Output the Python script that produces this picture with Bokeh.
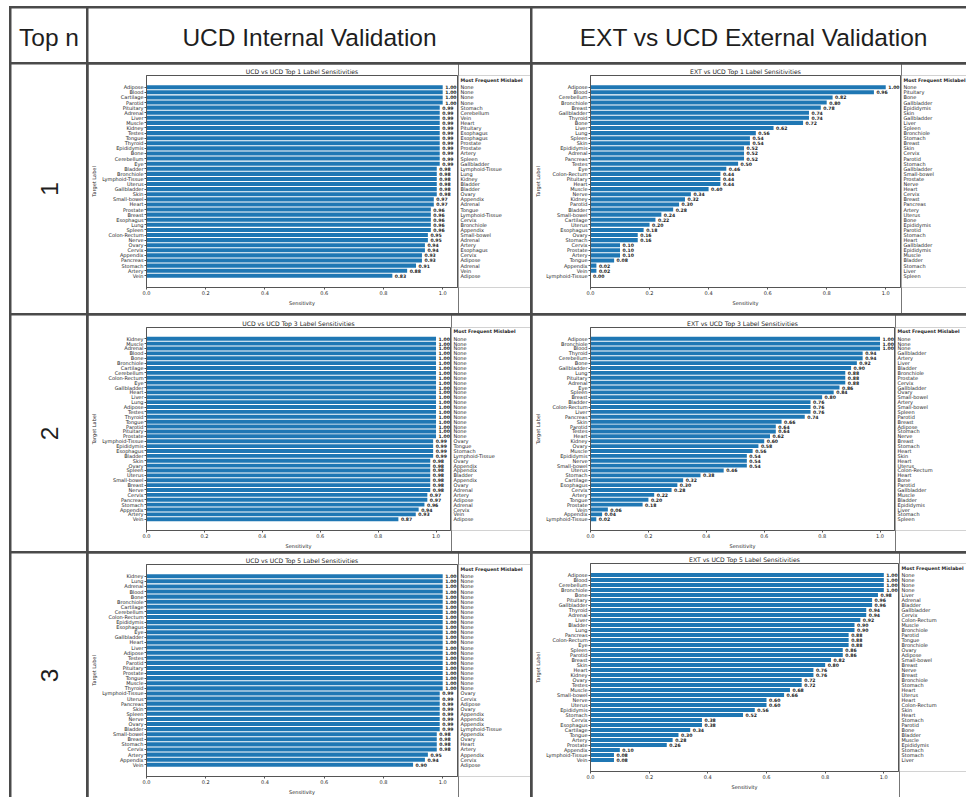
import math

from bokeh.core.properties import value
from bokeh.embed import file_html
from bokeh.layouts import column, row
from bokeh.models import (ColumnDataSource, FactorRange, FixedTicker, LabelSet,
                          PrintfTickFormatter, Range1d, Spacer)
from bokeh.plotting import figure
from bokeh.resources import INLINE

# ---------------------------------------------------------------- data
col_headers = ["Top n", "UCD Internal Validation", "EXT vs UCD External Validation"]
row_names = ["1", "2", "3"]
mislabel_header = "Most Frequent Mislabel"

ucd_titles = ["UCD vs UCD Top 1 Label Sensitivities",
              "UCD vs UCD Top 3 Label Sensitivities",
              "UCD vs UCD Top 5 Label Sensitivities"]
ext_titles = ["EXT vs UCD Top 1 Label Sensitivities",
              "EXT vs UCD Top 3 Label Sensitivities",
              "EXT vs UCD Top 5 Label Sensitivities"]

# UCD internal validation, top 1
ucd1_labels = ["Adipose", "Blood", "Cartilage", "Parotid", "Pituitary", "Adrenal", "Liver",
               "Muscle", "Kidney", "Testes", "Tongue", "Thyroid", "Epididymis", "Bone",
               "Cerebellum", "Eye", "Bladder", "Bronchiole", "Lymphoid-Tissue", "Uterus",
               "Gallbladder", "Skin", "Small-bowel", "Heart", "Prostate", "Breast",
               "Esophagus", "Lung", "Spleen", "Colon-Rectum", "Nerve", "Ovary", "Cervix",
               "Appendix", "Pancreas", "Stomach", "Artery", "Vein"]
ucd1_values = [1.00, 1.00, 1.00, 1.00, 0.99, 0.99, 0.99, 0.99, 0.99, 0.99, 0.99, 0.99, 0.99,
               0.99, 0.99, 0.99, 0.98, 0.98, 0.98, 0.98, 0.98, 0.98, 0.97, 0.97, 0.96, 0.96,
               0.96, 0.96, 0.96, 0.95, 0.95, 0.94, 0.94, 0.93, 0.93, 0.91, 0.88, 0.83]
ucd1_mislabels = ["None", "None", "None", "None", "Stomach", "Cerebellum", "Vein", "Heart",
                  "Pituitary", "Esophagus", "Esophagus", "Prostate", "Prostate", "Artery",
                  "Spleen", "Gallbladder", "Lymphoid-Tissue", "Lung", "Kidney", "Bladder",
                  "Bladder", "Ovary", "Appendix", "Adrenal", "Tongue", "Lymphoid-Tissue",
                  "Cervix", "Bronchiole", "Appendix", "Small-bowel", "Adrenal", "Artery",
                  "Esophagus", "Cervix", "Adipose", "Adrenal", "Vein", "Adipose"]

# UCD internal validation, top 3
ucd3_labels = ["Kidney", "Muscle", "Adrenal", "Blood", "Bone", "Bronchiole", "Cartilage",
               "Cerebellum", "Colon-Rectum", "Eye", "Gallbladder", "Heart", "Liver", "Lung",
               "Adipose", "Testes", "Thyroid", "Tongue", "Parotid", "Pituitary", "Prostate",
               "Lymphoid-Tissue", "Epididymis", "Esophagus", "Bladder", "Skin", "Ovary",
               "Spleen", "Uterus", "Small-bowel", "Breast", "Nerve", "Cervix", "Pancreas",
               "Stomach", "Appendix", "Artery", "Vein"]
ucd3_values = [1.00, 1.00, 1.00, 1.00, 1.00, 1.00, 1.00, 1.00, 1.00, 1.00, 1.00, 1.00, 1.00,
               1.00, 1.00, 1.00, 1.00, 1.00, 1.00, 1.00, 1.00, 0.99, 0.99, 0.99, 0.99, 0.98,
               0.98, 0.98, 0.98, 0.98, 0.98, 0.98, 0.97, 0.97, 0.96, 0.94, 0.93, 0.87]
ucd3_mislabels = ["None", "None", "None", "None", "None", "None", "None", "None", "None",
                  "None", "None", "None", "None", "None", "None", "None", "None", "None",
                  "None", "None", "None", "Ovary", "Tongue", "Stomach", "Lymphoid-Tissue",
                  "Ovary", "Appendix", "Appendix", "Bladder", "Appendix", "Ovary", "Adrenal",
                  "Artery", "Adipose", "Adrenal", "Cervix", "Vein", "Adipose"]

# UCD internal validation, top 5
ucd5_labels = ["Kidney", "Lung", "Adrenal", "Blood", "Bone", "Bronchiole", "Cartilage",
               "Cerebellum", "Colon-Rectum", "Epididymis", "Esophagus", "Eye", "Gallbladder",
               "Heart", "Liver", "Adipose", "Testes", "Parotid", "Pituitary", "Prostate",
               "Tongue", "Muscle", "Thyroid", "Lymphoid-Tissue", "Uterus", "Pancreas", "Skin",
               "Spleen", "Nerve", "Ovary", "Bladder", "Small-bowel", "Breast", "Stomach",
               "Cervix", "Artery", "Appendix", "Vein"]
ucd5_values = [1.00, 1.00, 1.00, 1.00, 1.00, 1.00, 1.00, 1.00, 1.00, 1.00, 1.00, 1.00, 1.00,
               1.00, 1.00, 1.00, 1.00, 1.00, 1.00, 1.00, 1.00, 1.00, 1.00, 0.99, 0.99, 0.99,
               0.99, 0.99, 0.99, 0.99, 0.99, 0.98, 0.98, 0.98, 0.98, 0.95, 0.94, 0.90]
ucd5_mislabels = ["None", "None", "None", "None", "None", "None", "None", "None", "None",
                  "None", "None", "None", "None", "None", "None", "None", "None", "None",
                  "None", "None", "None", "None", "None", "Ovary", "Cervix", "Adipose", "Ovary",
                  "Appendix", "Appendix", "Appendix", "Lymphoid-Tissue", "Appendix", "Ovary",
                  "Heart", "Artery", "Appendix", "Cervix", "Adipose"]

# EXT vs UCD external validation, top 1
ext1_labels = ["Adipose", "Blood", "Cerebellum", "Bronchiole", "Breast", "Gallbladder",
               "Thyroid", "Bone", "Liver", "Lung", "Spleen", "Skin", "Epididymis", "Adrenal",
               "Pancreas", "Testes", "Eye", "Colon-Rectum", "Pituitary", "Heart", "Muscle",
               "Nerve", "Kidney", "Parotid", "Bladder", "Small-bowel", "Cartilage", "Uterus",
               "Esophagus", "Ovary", "Stomach", "Cervix", "Prostate", "Artery", "Tongue",
               "Appendix", "Vein", "Lymphoid-Tissue"]
ext1_values = [1.00, 0.96, 0.82, 0.80, 0.78, 0.74, 0.74, 0.72, 0.62, 0.56, 0.54, 0.54, 0.52,
               0.52, 0.52, 0.50, 0.46, 0.44, 0.44, 0.44, 0.40, 0.34, 0.32, 0.30, 0.28, 0.24,
               0.22, 0.20, 0.18, 0.16, 0.16, 0.10, 0.10, 0.10, 0.08, 0.02, 0.02, 0.00]
ext1_mislabels = ["None", "Pituitary", "Bone", "Gallbladder", "Epididymis", "Skin",
                  "Gallbladder", "Liver", "Spleen", "Bronchiole", "Stomach", "Breast", "Skin",
                  "Cervix", "Parotid", "Stomach", "Gallbladder", "Small-bowel", "Prostate",
                  "Nerve", "Heart", "Cervix", "Breast", "Pancreas", "Artery", "Uterus", "Bone",
                  "Epididymis", "Parotid", "Stomach", "Heart", "Gallbladder", "Epididymis",
                  "Muscle", "Bladder", "Stomach", "Liver", "Spleen"]

# EXT vs UCD external validation, top 3
ext3_labels = ["Adipose", "Bronchiole", "Blood", "Thyroid", "Cerebellum", "Bone",
               "Gallbladder", "Lung", "Pituitary", "Adrenal", "Eye", "Spleen", "Breast",
               "Bladder", "Colon-Rectum", "Liver", "Pancreas", "Skin", "Parotid", "Testes",
               "Heart", "Kidney", "Ovary", "Muscle", "Epididymis", "Nerve", "Small-bowel",
               "Uterus", "Stomach", "Cartilage", "Esophagus", "Cervix", "Artery", "Tongue",
               "Prostate", "Vein", "Appendix", "Lymphoid-Tissue"]
ext3_values = [1.00, 1.00, 1.00, 0.94, 0.94, 0.92, 0.90, 0.88, 0.88, 0.88, 0.86, 0.84, 0.80,
               0.76, 0.76, 0.76, 0.74, 0.66, 0.64, 0.64, 0.62, 0.60, 0.58, 0.56, 0.54, 0.54,
               0.54, 0.46, 0.38, 0.32, 0.30, 0.28, 0.22, 0.20, 0.18, 0.06, 0.04, 0.02]
ext3_mislabels = ["None", "None", "None", "Gallbladder", "Artery", "Liver", "Bladder",
                  "Bronchiole", "Prostate", "Cervix", "Gallbladder", "Ovary", "Small-bowel",
                  "Artery", "Small-bowel", "Spleen", "Parotid", "Breast", "Adipose", "Stomach",
                  "Nerve", "Breast", "Stomach", "Heart", "Skin", "Heart", "Uterus",
                  "Colon-Rectum", "Heart", "Bone", "Parotid", "Gallbladder", "Muscle",
                  "Bladder", "Epididymis", "Liver", "Stomach", "Spleen"]

# EXT vs UCD external validation, top 5
ext5_labels = ["Adipose", "Blood", "Cerebellum", "Bronchiole", "Bone", "Pituitary",
               "Gallbladder", "Thyroid", "Adrenal", "Liver", "Bladder", "Lung", "Pancreas",
               "Colon-Rectum", "Eye", "Spleen", "Parotid", "Breast", "Skin", "Heart", "Kidney",
               "Ovary", "Testes", "Muscle", "Small-bowel", "Nerve", "Uterus", "Epididymis",
               "Stomach", "Cervix", "Esophagus", "Cartilage", "Tongue", "Artery", "Prostate",
               "Appendix", "Lymphoid-Tissue", "Vein"]
ext5_values = [1.00, 1.00, 1.00, 1.00, 0.98, 0.96, 0.96, 0.94, 0.94, 0.92, 0.90, 0.90, 0.88,
               0.88, 0.88, 0.86, 0.86, 0.82, 0.80, 0.76, 0.76, 0.72, 0.72, 0.68, 0.66, 0.60,
               0.60, 0.56, 0.52, 0.38, 0.38, 0.34, 0.30, 0.28, 0.26, 0.10, 0.08, 0.08]
ext5_mislabels = ["None", "None", "None", "None", "Liver", "Adrenal", "Bladder", "Gallbladder",
                  "Cervix", "Colon-Rectum", "Muscle", "Bronchiole", "Parotid", "Tongue",
                  "Bronchiole", "Ovary", "Adipose", "Small-bowel", "Breast", "Nerve", "Breast",
                  "Bronchiole", "Stomach", "Heart", "Uterus", "Heart", "Colon-Rectum", "Skin",
                  "Heart", "Stomach", "Parotid", "Bone", "Bladder", "Muscle", "Epididymis",
                  "Stomach", "Stomach", "Liver"]

sensitivity_ticks = [0.0, 0.2, 0.4, 0.6, 0.8, 1.0]

# ---------------------------------------------------------------- style
BAR = "#1f77b4"
SPINE = "#555555"
INK = "#1e1e1e"
RULE = "#4a4a4a"
PANEL_FONT = "DejaVu Sans"
HEAD_FONT = "Liberation Sans"
X_END = 1.05
PAD = 1.8          # categorical padding on each side, in bar slots


def panel(title, labels, vals, mislabels, cell_w, cell_h, left, frame_w, top, bottom):
    """Bar chart plus its 'most frequent mislabel' column, sharing one y range."""
    n = len(labels)
    src = ColumnDataSource(dict(label=labels, value=vals,
                                vtxt=[f"{v:.2f}" for v in vals], mis=mislabels))
    y_range = FactorRange(factors=labels[::-1], range_padding=PAD,
                          range_padding_units="absolute")

    bar_w = left + frame_w + 1
    p = figure(width=bar_w, height=cell_h, x_range=Range1d(0, X_END), y_range=y_range,
               min_border_left=left, min_border_right=1,
               min_border_top=top, min_border_bottom=bottom,
               x_axis_label="Sensitivity", y_axis_label="Target Label",
               output_backend="svg", toolbar_location=None)
    p.hbar(y="label", left=0, right="value", height=0.8, source=src,
           fill_color=BAR, line_color=None)
    p.add_layout(LabelSet(x="value", y="label", text="vtxt", source=src, x_offset=2.5,
                          text_baseline="middle", text_align="left",
                          text_font=value(PANEL_FONT), text_font_style="bold",
                          text_font_size="4.6px", text_color=INK))

    p.title.text = title
    p.title.align = "center"
    p.title.text_font = PANEL_FONT
    p.title.text_font_size = "6.1px"
    p.title.text_font_style = "normal"
    p.title.text_color = INK
    p.title.standoff = 1

    p.grid.visible = False
    p.outline_line_color = SPINE
    p.outline_line_width = 1
    for ax in (p.xaxis[0], p.yaxis[0]):
        ax.axis_line_color = SPINE
        ax.major_tick_line_color = SPINE
        ax.minor_tick_line_color = None
        ax.major_tick_out = 2
        ax.major_tick_in = 0
        ax.major_label_standoff = 1
        ax.major_label_text_font = PANEL_FONT
        ax.major_label_text_font_size = "5px"
        ax.major_label_text_color = INK
        ax.axis_label_text_font = PANEL_FONT
        ax.axis_label_text_font_size = "5px"
        ax.axis_label_text_font_style = "normal"
        ax.axis_label_text_color = INK
        ax.axis_label_standoff = 2
    p.xaxis.ticker = FixedTicker(ticks=sensitivity_ticks)
    p.xaxis.formatter = PrintfTickFormatter(format="%.1f")

    # mislabel column: same height and vertical borders, so rows line up
    mis_w = cell_w - bar_w
    q = figure(width=mis_w, height=cell_h, x_range=Range1d(0, mis_w), y_range=y_range,
               x_axis_type=None, y_axis_type=None,
               min_border_left=0, min_border_right=0,
               min_border_top=top, min_border_bottom=bottom,
               output_backend="svg", toolbar_location=None)
    q.outline_line_color = None
    q.text(x=2, y="label", text="mis", source=src, text_baseline="middle",
           text_align="left", text_font=value(PANEL_FONT), text_font_size="5px",
           text_color=INK)
    q.text(x=[2], y=[n - 0.5 + 1.38], text=[mislabel_header], text_baseline="middle",
           text_align="left", text_font=value(PANEL_FONT), text_font_style="bold",
           text_font_size="4.7px", text_color=INK)
    return row(p, q, spacing=0)


def text_cell(txt, width, height, fx, fy, angle=0.0, size="24.5px"):
    p = figure(width=width, height=height, x_range=Range1d(0, 1), y_range=Range1d(0, 1),
               x_axis_type=None, y_axis_type=None, min_border=0,
               output_backend="svg", toolbar_location=None)
    p.outline_line_color = None
    p.text(x=[fx], y=[fy], text=[txt], angle=angle, text_align="center",
           text_baseline="middle", text_font=value(HEAD_FONT), text_font_size=size,
           text_color=INK)
    return p


# ---------------------------------------------------------------- layout
W0, W1, W2 = 75, 442, 434
H_HEAD, H1, H2, H3 = 54, 249, 236, 244

header = row(Spacer(width=0, height=H_HEAD),
             text_cell(col_headers[0], W0, H_HEAD, 0.5, 0.46),
             text_cell(col_headers[1], W1, H_HEAD, 0.5, 0.46),
             text_cell(col_headers[2], W2, H_HEAD, 0.51, 0.46),
             spacing=2)

row1 = row(Spacer(width=0, height=H1),
           text_cell(row_names[0], W0, H1, 0.5, 0.5, angle=math.pi / 2),
           panel(ucd_titles[0], ucd1_labels, ucd1_values, ucd1_mislabels,
                 W1, H1, 57, 312, 11, 26),
           panel(ext_titles[0], ext1_labels, ext1_values, ext1_mislabels,
                 W2, H1, 56, 312, 11, 26),
           spacing=2)

row2 = row(Spacer(width=0, height=H2),
           text_cell(row_names[1], W0, H2, 0.5, 0.5, angle=math.pi / 2),
           panel(ucd_titles[1], ucd3_labels, ucd3_values, ucd3_mislabels,
                 W1, H2, 55, 307, 12, 18),
           panel(ext_titles[1], ext3_labels, ext3_values, ext3_mislabels,
                 W2, H2, 55, 307, 12, 17),
           spacing=2)

row3 = row(Spacer(width=0, height=H3),
           text_cell(row_names[2], W0, H3, 0.5, 0.5, angle=math.pi / 2),
           panel(ucd_titles[2], ucd5_labels, ucd5_values, ucd5_mislabels,
                 W1, H3, 56, 313, 11, 21),
           panel(ext_titles[2], ext5_labels, ext5_values, ext5_mislabels,
                 W2, H3, 57, 309, 8, 26),
           spacing=2)

layout = column(Spacer(width=10, height=0), header, row1, row2, row3, spacing=2,
                margin=(6, 0, 0, 9), styles={"background-color": RULE})

open("out.html", "w").write(file_html(layout, INLINE, title="Label sensitivities"))
